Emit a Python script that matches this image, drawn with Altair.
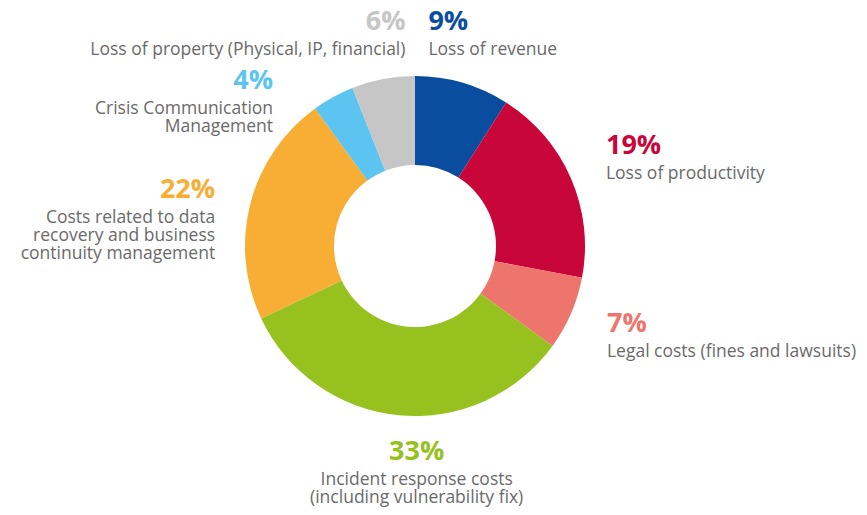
import altair as alt
import pandas as pd

# ---- data ----
categories = [
    "Loss of revenue",
    "Loss of productivity",
    "Legal costs",
    "Incident response costs",
    "Data recovery & continuity",
    "Crisis communication",
    "Loss of property",
]
values = [9, 19, 7, 33, 22, 4, 6]
pct_labels = ["9%", "19%", "7%", "33%", "22%", "4%", "6%"]
descriptions = [
    "Loss of revenue",
    "Loss of productivity",
    "Legal costs (fines and lawsuits)",
    "Incident response costs\n(including vulnerability fix)",
    "Costs related to data\nrecovery and business\ncontinuity management",
    "Crisis Communication\nManagement",
    "Loss of property (Physical, IP, financial)",
]
colors = ["#0a4d9f", "#c8063a", "#ee756c", "#96c11f", "#f8ae35", "#5cc4f0", "#c6c6c6"]

# ---- label layout (style) ----
label_align = ["left", "left", "left", "center", "right", "right", "right"]
label_dx = [-41, 12, 13, 20, -11, -48, 27]
label_dy = [-29, -15, 9, 20, 0, 14, -24]

CX, CY = 407, 238      # pie centre inside the chart
R_OUT, R_IN = 170, 81  # ring radii
R_LAB = 195            # label anchor radius

df = pd.DataFrame({
    "idx": list(range(len(values))),
    "category": categories,
    "value": values,
    "pct": pct_labels,
    "desc": descriptions,
    "align": label_align,
    "dx": label_dx,
    "dy": label_dy,
})

color_scale = alt.Scale(domain=categories, range=colors)

base = alt.Chart(df)

arcs = base.mark_arc(innerRadius=R_IN, outerRadius=R_OUT).encode(
    theta=alt.Theta("value:Q", stack=True),
    color=alt.Color("category:N", scale=color_scale, legend=None),
    order=alt.Order("idx:Q"),
    x=alt.value(CX),
    y=alt.value(CY),
)

lab = base.transform_joinaggregate(
    total="sum(value)"
).transform_window(
    cum="sum(value)", sort=[alt.SortField("idx")], frame=[None, 0]
).transform_calculate(
    ang="2*PI*(datum.cum - datum.value/2)/datum.total",
).transform_calculate(
    px=f"{CX} + {R_LAB}*sin(datum.ang) + datum.dx",
    py=f"{CY} - {R_LAB}*cos(datum.ang) + datum.dy",
)

layers = [arcs]
for a in ["left", "center", "right"]:
    sub = lab.transform_filter(f"datum.align == '{a}'")
    pct = sub.mark_text(
        align=a, baseline="alphabetic", font="Open Sans",
        fontSize=27, fontWeight="bold",
    ).encode(
        x=alt.X("px:Q", scale=None, axis=None),
        y=alt.Y("py:Q", scale=None, axis=None),
        text="pct:N",
        color=alt.Color("category:N", scale=color_scale, legend=None),
    )
    desc = sub.mark_text(
        align=a, baseline="alphabetic", font="Open Sans",
        fontSize=17.5, color="#6a6a6a", lineBreak="\n", lineHeight=18, dy=25,
    ).encode(
        x=alt.X("px:Q", scale=None, axis=None),
        y=alt.Y("py:Q", scale=None, axis=None),
        text="desc:N",
    )
    layers += [pct, desc]

chart = alt.layer(*layers).properties(
    width=851, height=499,
    autosize=alt.AutoSizeParams(type="none"),
    padding=0,
    background="white",
).configure_view(stroke=None)

chart.save("out.html", embed_options={"renderer": "svg", "actions": False})
